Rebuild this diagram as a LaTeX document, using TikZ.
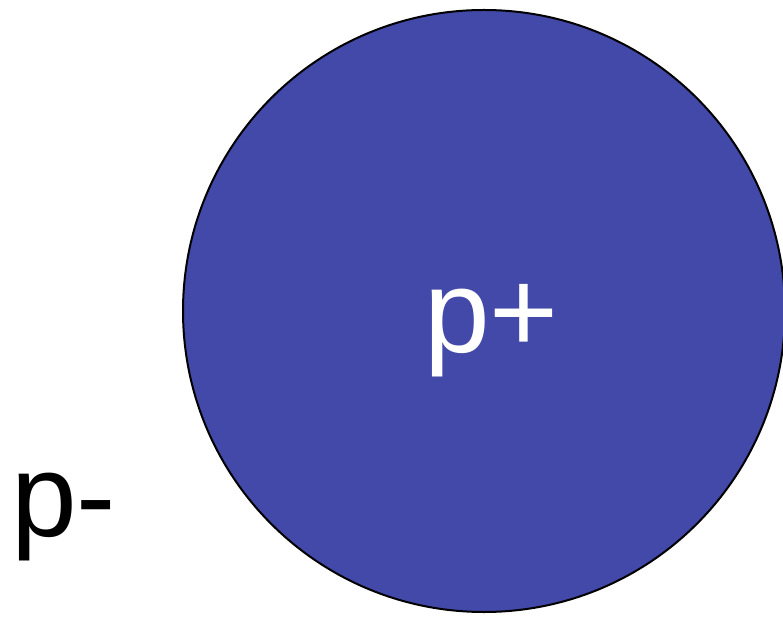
\documentclass[tikz,border=0pt]{standalone}
\usepackage{fontspec}
\setmainfont{Liberation Sans}
\definecolor{pblue}{RGB}{67,73,168}
\begin{document}
\begin{tikzpicture}[x=1pt,y=1pt,
  lbl/.style={inner sep=0pt,anchor=base west,font=\fontsize{118}{128}\selectfont}]
\useasboundingbox (0,0) rectangle (783,616);
\begin{scope}
\clip (0,0) rectangle (783,616);
\node[circle,draw=black,line width=2pt,fill=pblue,minimum size=602pt,inner sep=0pt] (cp) at (484,305) {};
\end{scope}
\node[lbl,text=white] (pplus) at (424,263) {p+};
\node[lbl,text=black] (pminus) at (11,80) {p-};
\end{tikzpicture}
\end{document}
